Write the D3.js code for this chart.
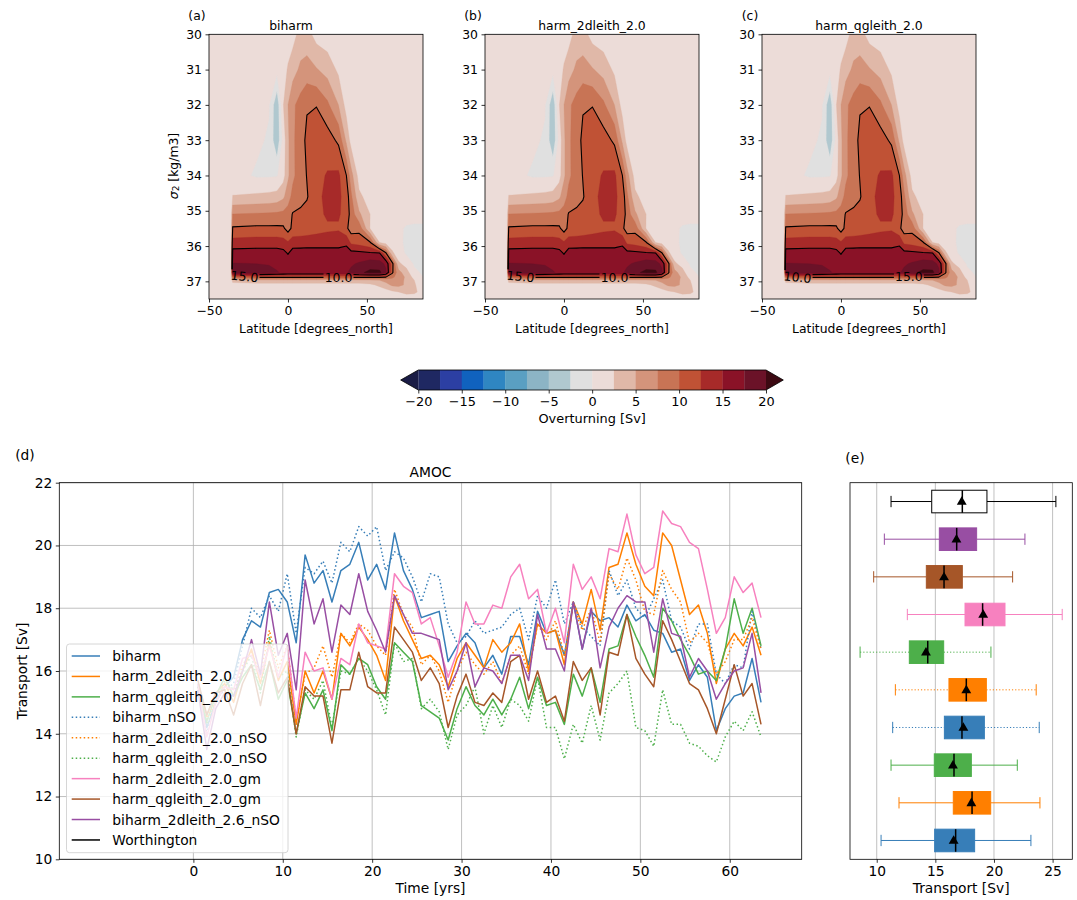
<!DOCTYPE html>
<html>
<head>
<meta charset="utf-8">
<title>Overturning and AMOC</title>
<script src="https://cdn.jsdelivr.net/npm/d3@7"></script>
<style>
    body { margin: 0; background: #ffffff; }
    svg { font-family: "DejaVu Sans", sans-serif; }
</style>
</head>
<body>
<svg id="figure" width="1077" height="900"></svg>
<script>
// ---------- (a)-(c) overturning streamfunction in density space ----------
const latGrid = [-50, -36, -35, -20, -12, -7, -3, 0, 3, 8, 12, 18, 25, 32, 37, 40, 45, 52, 58, 62, 66, 70, 75, 80, 85.5];
const sigmaGrid = [30, 31, 32, 33, 34, 34.6, 35.1, 35.5, 35.9, 36.2, 36.5, 36.75, 36.88, 36.97, 37.1, 37.3, 37.5];
const psiRows = [
    [1, 1, 1, 1, 1, 1, 1, 1, 1.5, 3.5, 3.5, 1.5, 1, 1, 1, 1, 1, 1, 1, 1, 1, 1, 1, 1, 1],
    [1, 1, 1, 1, 1, 0.8, 1.2, 2.8, 4, 5.5, 6, 5.2, 4, 2, 1, 1, 1, 1, 1, 1, 1, 1, 1, 1, 1],
    [1, 1, 1, 1, 0.2, -4.5, 2.4, 5, 7, 8.5, 9.8, 9.9, 8, 5, 1.5, 1, 1, 1, 1, 1, 1, 1, 1, 1, 1],
    [1, 1, 1, 0.5, -0.3, -4.5, 1, 4.5, 7, 9, 10.5, 11.5, 11.2, 9.5, 4.5, 1.5, 1, 1, 1, 1, 1, 1, 1, 1, 1],
    [1, 1, 1, -0.3, -0.3, -0.2, 1.5, 4.5, 7, 8.8, 10.1, 11.8, 12.7, 13, 10, 6, 1.5, 1, 1, 1, 1, 1, 1, 1, 1],
    [1, 1, 2.6, 3, 3.2, 3.5, 4.5, 6.5, 8.2, 9.2, 9.8, 11.8, 13.2, 13, 11.5, 8, 3, 1.5, 1, 1, 1, 1, 1, 1, 1],
    [1, 1, 7.6, 7.8, 7.9, 8, 8.2, 8.5, 10.2, 10.5, 10.8, 11.5, 13, 12.8, 11.5, 9, 5.5, 2.5, 1, 1, 1, 1, 1, 1, 1],
    [1, 1, 10.3, 10.5, 10.5, 10.5, 10.4, 9, 10.6, 10.8, 11, 11.5, 12, 12.2, 10.5, 8.8, 9.2, 2.4, 1.2, 1, 1, 0.5, -0.3, -0.5, -0.5],
    [1, 1, 13.5, 13.8, 13.8, 13.8, 13.5, 12.8, 13.8, 13.9, 14, 14, 14, 14, 14.5, 12, 11.5, 10.3, 2.5, 1.5, 1, 0.5, -0.4, -0.6, -0.6],
    [1, 1, 16, 16, 16, 16, 15.8, 14.8, 16, 16, 16, 16, 16, 16, 16, 15.8, 15.6, 15.3, 15.1, 10.3, 3, 1, -0.3, -0.6, -0.6],
    [1, 1, 17.6, 17.5, 17.4, 17.2, 17, 16.5, 17, 17, 17, 17, 17, 17, 17, 17.2, 17.8, 18.8, 18.5, 17, 11, 3, 1.5, -0.3, -0.5],
    [1, 1, 19, 18.8, 18, 17.6, 17.3, 17, 17.2, 17.2, 17.2, 17.2, 17.2, 17.2, 17.3, 18, 19.5, 20.6, 20.6, 18, 10.5, 6, 3.5, 0.5, -0.3],
    [1, 1, 10, 10.5, 10.5, 10.5, 10.5, 10.5, 10.5, 10.5, 10.5, 10.5, 10.5, 10.5, 10.5, 10.5, 10.5, 10.5, 10.5, 10, 8, 6.5, 4.5, 1.5, 0],
    [1, 1, 3.5, 4.5, 4.5, 4.5, 4.5, 4.5, 4.5, 4.5, 4.5, 4.5, 4.5, 4.5, 4.5, 4.5, 4.5, 4.5, 5, 6, 6.5, 6, 4.5, 2.5, 1],
    [1, 1, 1.5, 1.5, 1.5, 1.5, 1.5, 1.5, 1.5, 1.5, 1.5, 1.5, 1.5, 1.5, 1.5, 1.5, 1.5, 2, 3, 4, 5.5, 5.8, 4.5, 2.8, 1],
    [1, 1, 1, 1, 1, 1, 1, 1, 1, 1, 1, 1, 1, 1, 1, 1, 1, 1, 1, 1.5, 2, 2.5, 3.2, 3, 1.5],
    [1, 1, 1, 1, 1, 1, 1, 1, 1, 1, 1, 1, 1, 1, 1, 1, 1, 1, 1, 1, 1, 1, 1, 1, 1]
];

const psiLevels = [-20, -17.5, -15, -12.5, -10, -7.5, -5, -2.5, 0, 2.5, 5, 7.5, 10, 12.5, 15, 17.5, 20];
const psiColors = ["#1f2862", "#2c3fa3", "#1062be", "#2f86c2", "#5a9fc2", "#8cb4c5", "#b0c8cf", "#e0e0e0",
                   "#ecdcd8", "#e0b8a8", "#d4947b", "#c87455", "#c05235", "#a72a29", "#8a1227", "#6b1228", "#3c0912"];
const psiUnder = "#1a1c45";
const lineLevels = [10, 15];
const colorbarTicks = [-20, -15, -10, -5, 0, 5, 10, 15, 20];

const panelTitles = ["biharm", "harm_2dleith_2.0", "harm_qgleith_2.0"];
const panelTags = ["(a)", "(b)", "(c)"];
const panelLabelText = [["15.0", "10.0"], ["15.0", "10.0"], ["10.0", "15.0"]];

// ---------- (d) AMOC time series, annual means ----------
const seriesNames = ["biharm", "harm_2dleith_2.0", "harm_qgleith_2.0", "biharm_nSO", "harm_2dleith_2.0_nSO",
                     "harm_qgleith_2.0_nSO", "harm_2dleith_2.0_gm", "harm_qgleith_2.0_gm", "biharm_2dleith_2.6_nSO", "Worthington"];
const years = d3.range(64).map(k => k + 0.5);

const biharm = [15.6, 14.2, 15.0, 15.5, 15.8, 17.0, 17.6, 17.4, 18.5, 18.6,
    18.2, 16.9, 19.7, 18.8, 19.2, 18.2, 19.2, 19.4, 20.1, 18.9,
    19.4, 18.6, 20.4, 19.2, 18.6, 17.7, 17.8, 17.9, 16.3, 16.8,
    17.2, 16.9, 16.1, 16.5, 15.9, 17.1, 17.1, 16.2, 17.9, 17.2,
    17.3, 16.5, 18.2, 16.7, 17.9, 17.6, 17.7, 17.4, 18.1, 17.6,
    17.8, 17.3, 17.2, 16.6, 16.7, 15.7, 16.2, 15.8, 14.1, 14.8,
    15.2, 15.3, 16.4, 15.0];
const harm2dleith = [15.5, 14.6, 15.3, 15.6, 15.0, 16.0, 16.7, 15.6, 16.9, 15.7,
    16.3, 14.3, 16.0, 15.3, 16.0, 15.1, 17.2, 16.8, 17.4, 17.0,
    16.5, 15.7, 18.4, 17.6, 17.0, 16.4, 16.5, 16.2, 15.5, 16.4,
    16.9, 16.5, 16.1, 17.0, 16.6, 16.9, 17.5, 16.0, 17.5, 17.2,
    17.3, 16.2, 18.2, 17.5, 18.6, 17.3, 19.3, 19.4, 20.4, 19.4,
    18.7, 18.4, 20.4, 20.0, 18.9, 17.8, 18.1, 17.2, 15.6, 16.7,
    17.2, 16.8, 17.4, 16.5];
const harmQgleith = [15.4, 14.4, 15.2, 15.8, 15.2, 15.8, 16.2, 15.4, 16.3, 15.1,
    15.7, 14.0, 15.3, 14.8, 15.4, 14.1, 16.2, 15.9, 16.4, 16.2,
    15.5, 15.1, 16.9, 16.6, 16.3, 14.9, 14.7, 14.5, 13.8, 14.8,
    15.5, 14.9, 14.6, 15.1, 14.6, 15.1, 15.8, 14.8, 15.8, 14.9,
    15.0, 14.3, 15.9, 15.2, 16.1, 15.0, 16.7, 16.8, 17.8, 17.1,
    16.5, 15.8, 18.0, 17.6, 17.0, 16.5, 15.9, 16.0, 15.7, 16.7,
    18.3, 17.2, 18.0, 16.8];
const biharmNSO = [15.5, 14.0, 15.1, 15.4, 15.6, 16.8, 18.0, 17.7, 18.4, 17.9,
    19.1, 17.2, 19.3, 19.1, 19.5, 18.8, 20.1, 19.8, 20.6, 20.3,
    20.6, 19.2, 19.8, 19.6, 19.0, 18.2, 19.1, 19.0, 17.5, 16.9,
    17.1, 17.6, 17.2, 17.3, 17.4, 17.8, 18.0, 17.0, 18.4, 18.0,
    18.9, 17.5, 18.2, 17.4, 17.1, 16.8, 19.2, 18.4, 18.9, 18.0,
    17.7, 18.3, 18.9, 17.6, 17.4, 16.7, 17.5, 17.5, 15.9, 15.6,
    16.2, 16.1, 17.9, 16.7];
const harm2dleithNSO = [15.7, 14.5, 15.0, 15.6, 15.2, 16.2, 16.6, 15.9, 17.3, 16.1,
    16.8, 14.4, 15.9, 16.1, 16.8, 15.8, 17.2, 16.9, 17.5, 17.3,
    16.8, 16.5, 18.6, 17.8, 17.4, 16.2, 16.5, 16.0, 15.0, 16.0,
    16.6, 16.2, 15.9, 16.3, 15.6, 16.5, 16.8, 15.9, 17.5, 17.0,
    17.6, 16.5, 18.1, 17.3, 18.0, 16.9, 19.1, 18.6, 19.6, 18.9,
    17.9, 17.8, 19.2, 18.6, 18.2, 16.9, 17.2, 16.9, 15.9, 16.3,
    17.0, 17.0, 17.7, 16.7];
const harmQgleithNSO = [15.5, 14.3, 15.0, 15.7, 15.4, 16.0, 16.5, 15.3, 17.1, 15.8,
    16.0, 13.9, 15.4, 15.1, 15.7, 14.2, 16.0, 15.9, 16.4, 16.0,
    15.4, 14.6, 16.9, 16.3, 16.4, 14.8, 15.1, 14.7, 13.5, 14.6,
    14.9, 15.5, 14.0, 14.9, 14.2, 15.1, 14.9, 14.4, 15.8, 14.2,
    14.2, 13.2, 14.3, 13.7, 14.9, 13.8, 15.3, 15.6, 16.0, 14.2,
    14.1, 13.6, 15.4, 14.3, 14.3, 13.7, 13.6, 13.3, 13.1, 13.9,
    14.4, 14.1, 14.7, 13.9];
const harm2dleithGM = [15.6, 13.9, 15.0, 15.5, 15.4, 16.4, 16.5, 15.8, 16.8, 15.8,
    16.8, 14.5, 16.6, 16.0, 16.1, 15.1, 16.4, 16.2, 17.5, 16.9,
    16.8, 16.7, 19.1, 18.7, 18.5, 17.5, 17.7, 16.8, 15.8, 16.6,
    18.2, 17.5, 17.5, 18.1, 18.0, 19.0, 19.4, 18.3, 18.6, 17.2,
    18.0, 16.9, 19.4, 18.6, 19.0, 18.3, 19.9, 19.8, 21.0, 19.7,
    19.1, 19.3, 21.1, 20.7, 20.6, 20.1, 19.9, 18.6, 17.2, 17.7,
    19.0, 18.5, 18.8, 17.7];
const harmQgleithGM = [15.7, 14.6, 15.3, 15.4, 14.6, 15.6, 16.2, 14.9, 16.3, 15.3,
    15.8, 14.0, 15.5, 15.2, 15.2, 13.7, 15.4, 15.4, 16.6, 15.5,
    15.3, 15.3, 17.4, 17.0, 16.6, 15.7, 16.1, 15.6, 14.2, 15.2,
    15.9, 15.0, 14.9, 15.3, 15.0, 16.3, 16.5, 15.1, 16.0, 15.0,
    15.2, 14.4, 16.3, 15.7, 16.1, 14.6, 16.6, 16.5, 17.8, 16.4,
    15.9, 15.5, 17.6, 17.0, 16.3, 15.6, 15.4, 14.8, 14.0, 15.1,
    16.2, 15.2, 15.6, 14.3];
const biharm2dleith26NSO = [15.4, 13.5, 14.8, 15.3, 15.2, 16.0, 17.0, 15.9, 18.2, 16.5,
    17.2, 15.4, 18.9, 17.5, 18.3, 16.6, 18.1, 17.8, 19.1, 17.9,
    17.3, 16.6, 18.4, 17.8, 17.2, 17.2, 17.1, 17.0, 15.4, 16.0,
    16.9, 15.5, 16.1, 16.0, 15.6, 16.5, 16.5, 15.7, 17.8, 16.7,
    16.7, 16.0, 18.2, 16.7, 18.0, 16.1, 17.4, 18.0, 18.4, 18.2,
    18.2, 16.6, 18.3, 17.2, 17.1, 15.8, 16.4, 16.0, 15.1, 15.6,
    16.0, 16.1, 17.2, 15.3];
const worthington = [];   // only shown in the legend

const seriesColors = ["#377eb8", "#ff7f00", "#4daf4a", "#377eb8", "#ff7f00", "#4daf4a", "#f781bf", "#a65628", "#984ea3", "#000000"];
const seriesDotted = [false, false, false, true, true, true, false, false, false, false];

// ---------- (e) box plots, bottom (1) to top (10) ----------
const boxFill = ["#377eb8", "#ff7f00", "#4daf4a", "#377eb8", "#ff7f00", "#4daf4a", "#f781bf", "#a65628", "#984ea3", "#ffffff"];
const boxEdge = ["#377eb8", "#ff7f00", "#4daf4a", "#377eb8", "#ff7f00", "#4daf4a", "#f781bf", "#a65628", "#984ea3", "#000000"];
const boxDotted = [false, false, false, true, true, true, false, false, false, false];
const whiskLo = [10.37, 11.9, 11.22, 11.36, 11.59, 8.58, 12.61, 9.74, 10.65, 11.22];
const boxQ1 = [14.94, 16.53, 14.91, 15.77, 16.16, 12.78, 17.53, 14.23, 15.34, 14.69];
const boxMedian = [16.73, 18.13, 16.59, 17.27, 17.64, 14.35, 19.03, 15.74, 16.82, 17.3];
const boxQ3 = [18.35, 19.72, 18.07, 19.18, 19.35, 15.71, 20.94, 17.3, 18.52, 19.4];
const whiskHi = [23.15, 23.92, 21.99, 23.86, 23.6, 19.74, 25.82, 21.59, 22.64, 25.28];
const boxMean = [16.56, 18.07, 16.5, 17.39, 17.64, 14.2, 19.08, 15.74, 16.8, 17.25];

const svg = d3.select("#figure");
const defs = svg.append("defs");

function styleAxis(g, fontSize) {
    g.attr("font-family", "DejaVu Sans").attr("font-size", fontSize);
    g.selectAll(".domain").remove();
    g.selectAll(".tick line").attr("stroke", "#000").attr("stroke-width", 0.8);
    g.selectAll(".tick text").attr("fill", "#000");
}

function drawFrame(x0, y0, x1, y1) {
    svg.append("rect")
        .attr("x", x0).attr("y", y0)
        .attr("width", x1 - x0).attr("height", y1 - y0)
        .attr("fill", "none")
        .attr("stroke", "#000")
        .attr("stroke-width", 0.8);
}

// ---------- contour panels ----------
function drawOverturning(p, x0, titleX) {
    const top = 34.3, bottom = 299, width = 214;
    const x = d3.scaleLinear().domain([-50, 85.5]).range([x0, x0 + width]);
    const y = d3.scaleLinear().domain([30, 37.5]).range([top, bottom]);

    const nx = latGrid.length, ny = sigmaGrid.length;
    const latOf = d3.scaleLinear().domain(d3.range(nx)).range(latGrid);
    const sigOf = d3.scaleLinear().domain(d3.range(ny)).range(sigmaGrid);
    const clampI = (v, n) => Math.max(0, Math.min(n - 1, v - 0.5));
    const path = d3.geoPath(d3.geoTransform({
        point(px, py) {
            this.stream.point(x(latOf(clampI(px, nx))), y(sigOf(clampI(py, ny))));
        }
    }));
    const values = psiRows.flat();

    const clipId = "clip-" + p;
    defs.append("clipPath").attr("id", clipId)
        .append("rect").attr("x", x0).attr("y", top).attr("width", width).attr("height", bottom - top);

    const g = svg.append("g").attr("clip-path", `url(#${clipId})`);
    g.append("rect")
        .attr("x", x0).attr("y", top).attr("width", width).attr("height", bottom - top)
        .attr("fill", psiUnder);

    const bands = d3.contours().size([nx, ny]).thresholds(psiLevels)(values);
    g.selectAll("path.band")
        .data(bands)
        .enter()
        .append("path")
        .attr("class", "band")
        .attr("d", path)
        .attr("fill", d => psiColors[psiLevels.indexOf(d.value)])
        .attr("stroke", d => psiColors[psiLevels.indexOf(d.value)])
        .attr("stroke-width", 0.3);

    // inline contour labels cut gaps into the black lines
    const labelPos = p === 2 ? [[-27.5, 36.88], [43, 36.86]] : [[-27.5, 36.86], [32, 36.9]];
    const maskId = "mask-" + p;
    const mask = defs.append("mask").attr("id", maskId).attr("maskUnits", "userSpaceOnUse")
        .attr("x", 0).attr("y", 0).attr("width", 1077).attr("height", 900);
    mask.append("rect").attr("x", 0).attr("y", 0).attr("width", 1077).attr("height", 900).attr("fill", "#fff");
    labelPos.forEach(lp => {
        mask.append("rect")
            .attr("x", x(lp[0]) - 15).attr("y", y(lp[1]) - 7)
            .attr("width", 30).attr("height", 14)
            .attr("fill", "#000");
    });

    const lines = d3.contours().size([nx, ny]).thresholds(lineLevels)(values);
    g.append("g")
        .attr("mask", `url(#${maskId})`)
        .selectAll("path")
        .data(lines)
        .enter()
        .append("path")
        .attr("d", path)
        .attr("fill", "none")
        .attr("stroke", "#000")
        .attr("stroke-width", 1.1);

    labelPos.forEach((lp, i) => {
        g.append("text")
            .attr("x", x(lp[0]))
            .attr("y", y(lp[1]))
            .attr("text-anchor", "middle")
            .attr("dominant-baseline", "central")
            .attr("transform", `rotate(${i === 0 ? 6 : 0}, ${x(lp[0])}, ${y(lp[1])})`)
            .style("font-size", "12.4px")
            .attr("fill", "#000")
            .text(panelLabelText[p][i]);
    });

    drawFrame(x0, top, x0 + width, bottom);

    const ax = svg.append("g")
        .attr("transform", `translate(0, ${bottom})`)
        .call(d3.axisBottom(x).tickValues([-50, 0, 50]).tickSize(3.5).tickPadding(3.5));
    styleAxis(ax, "12.4px");
    const ay = svg.append("g")
        .attr("transform", `translate(${x0}, 0)`)
        .call(d3.axisLeft(y).tickValues(d3.range(30, 38)).tickSize(3.5).tickPadding(3.5));
    styleAxis(ay, "12.4px");

    svg.append("text")
        .attr("x", titleX).attr("y", 25)
        .attr("text-anchor", "middle").attr("dominant-baseline", "central")
        .style("font-size", "12.4px")
        .text(panelTitles[p]);
    svg.append("text")
        .attr("x", x0 - 12).attr("y", 15)
        .attr("text-anchor", "middle").attr("dominant-baseline", "central")
        .style("font-size", "12.4px")
        .text(panelTags[p]);
    svg.append("text")
        .attr("x", x0 + width / 2).attr("y", 328)
        .attr("text-anchor", "middle").attr("dominant-baseline", "central")
        .style("font-size", "12.4px")
        .text("Latitude [degrees_north]");

    if (p === 0) {
        const yl = svg.append("text")
            .attr("transform", `translate(173, 166) rotate(-90)`)
            .attr("text-anchor", "middle").attr("dominant-baseline", "central")
            .style("font-size", "12.4px");
        yl.append("tspan").style("font-style", "italic").text("σ");
        yl.append("tspan").attr("dy", 3).style("font-size", "9px").text("2");
        yl.append("tspan").attr("dy", -3).text(" [kg/m3]");
    }
}

drawOverturning(0, 209, 291);
drawOverturning(1, 485, 592);
drawOverturning(2, 762, 869);

// ---------- colorbar ----------
function drawColorbar() {
    const cb = d3.scaleLinear().domain([-20, 20]).range([418.3, 766]);
    const y0 = 370, y1 = 390;
    for (let i = 0; i < psiLevels.length - 1; i++) {
        svg.append("rect")
            .attr("x", cb(psiLevels[i])).attr("y", y0)
            .attr("width", cb(psiLevels[i + 1]) - cb(psiLevels[i]) + 0.3)
            .attr("height", y1 - y0)
            .attr("fill", psiColors[i]);
    }
    svg.append("path")
        .attr("d", `M${cb(-20)},${y0} L400.7,${(y0 + y1) / 2} L${cb(-20)},${y1} Z`)
        .attr("fill", psiUnder);
    svg.append("path")
        .attr("d", `M${cb(20)},${y0} L783.3,${(y0 + y1) / 2} L${cb(20)},${y1} Z`)
        .attr("fill", psiColors[psiColors.length - 1]);
    svg.append("path")
        .attr("d", `M${cb(-20)},${y0} L400.7,${(y0 + y1) / 2} L${cb(-20)},${y1} L${cb(20)},${y1} L783.3,${(y0 + y1) / 2} L${cb(20)},${y0} Z`)
        .attr("fill", "none").attr("stroke", "#000").attr("stroke-width", 0.8);

    const ax = svg.append("g")
        .attr("transform", `translate(0, ${y1})`)
        .call(d3.axisBottom(cb).tickValues(colorbarTicks).tickSize(3.5).tickPadding(3));
    styleAxis(ax, "12.9px");

    svg.append("text")
        .attr("x", cb(0)).attr("y", 418)
        .attr("text-anchor", "middle").attr("dominant-baseline", "central")
        .style("font-size", "12.9px")
        .text("Overturning [Sv]");
}
drawColorbar();

// ---------- (d) AMOC time series ----------
function drawTimeSeries() {
    const left = 59.3, right = 801.7, top = 482.7, bottom = 859.3;
    const x = d3.scaleLinear().domain([-15, 68.05]).range([left, right]);
    const y = d3.scaleLinear().domain([10, 22]).range([bottom, top]);

    const grid = svg.append("g");
    d3.range(0, 61, 10).forEach(t => {
        grid.append("line")
            .attr("x1", x(t)).attr("x2", x(t)).attr("y1", top).attr("y2", bottom)
            .attr("stroke", "#b0b0b0").attr("stroke-width", 0.8);
    });
    d3.range(10, 23, 2).forEach(v => {
        grid.append("line")
            .attr("x1", left).attr("x2", right).attr("y1", y(v)).attr("y2", y(v))
            .attr("stroke", "#b0b0b0").attr("stroke-width", 0.8);
    });

    const allSeries = [biharm, harm2dleith, harmQgleith, biharmNSO, harm2dleithNSO, harmQgleithNSO,
                       harm2dleithGM, harmQgleithGM, biharm2dleith26NSO, worthington];
    const line = d3.line()
        .x((d, i) => x(years[i]))
        .y(d => y(d));

    allSeries.forEach((s, i) => {
        if (!s.length) return;
        svg.append("path")
            .datum(s)
            .attr("d", line)
            .attr("fill", "none")
            .attr("stroke", seriesColors[i])
            .attr("stroke-width", 1.5)
            .attr("stroke-linejoin", "round")
            .attr("stroke-dasharray", seriesDotted[i] ? "1.5,2.5" : null);
    });

    drawFrame(left, top, right, bottom);

    const ax = svg.append("g")
        .attr("transform", `translate(0, ${bottom})`)
        .call(d3.axisBottom(x).tickValues(d3.range(0, 61, 10)).tickSize(3.5).tickPadding(3.5));
    styleAxis(ax, "13.8px");
    const ay = svg.append("g")
        .attr("transform", `translate(${left}, 0)`)
        .call(d3.axisLeft(y).tickValues(d3.range(10, 23, 2)).tickSize(3.5).tickPadding(3.5));
    styleAxis(ay, "13.8px");

    svg.append("text")
        .attr("x", (left + right) / 2).attr("y", 472)
        .attr("text-anchor", "middle").attr("dominant-baseline", "central")
        .style("font-size", "13.8px")
        .text("AMOC");
    svg.append("text")
        .attr("x", (left + right) / 2).attr("y", 888)
        .attr("text-anchor", "middle").attr("dominant-baseline", "central")
        .style("font-size", "13.8px")
        .text("Time [yrs]");
    svg.append("text")
        .attr("transform", `translate(22, ${(top + bottom) / 2}) rotate(-90)`)
        .attr("text-anchor", "middle").attr("dominant-baseline", "central")
        .style("font-size", "13.8px")
        .text("Transport [Sv]");
    svg.append("text")
        .attr("x", 25).attr("y", 455)
        .attr("text-anchor", "middle").attr("dominant-baseline", "central")
        .style("font-size", "13.8px")
        .text("(d)");

    // legend
    const lg = svg.append("g").attr("class", "legend");
    lg.append("rect")
        .attr("x", 66.5).attr("y", 644)
        .attr("width", 221.5).attr("height", 208.7)
        .attr("rx", 3)
        .attr("fill", "#ffffff").attr("fill-opacity", 0.8)
        .attr("stroke", "#cccccc").attr("stroke-width", 0.8);
    const items = lg.selectAll(".legend-item")
        .data(seriesNames)
        .enter()
        .append("g")
        .attr("class", "legend-item")
        .attr("transform", (d, i) => `translate(0, ${656 + i * 20.44})`);
    items.append("line")
        .attr("x1", 71.7).attr("x2", 100).attr("y1", 0).attr("y2", 0)
        .attr("stroke", (d, i) => seriesColors[i])
        .attr("stroke-width", 1.5)
        .attr("stroke-dasharray", (d, i) => seriesDotted[i] ? "1.5,2.5" : null);
    items.append("text")
        .attr("x", 112.3).attr("y", 0)
        .attr("dominant-baseline", "central")
        .style("font-size", "13.8px")
        .text(d => d);
}
drawTimeSeries();

// ---------- (e) box plots ----------
function drawBoxes() {
    const left = 850, right = 1072.3, top = 482.7, bottom = 859.3;
    const x = d3.scaleLinear().domain([7.72, 26.68]).range([left, right]);
    const y = d3.scaleLinear().domain([0.5, 10.5]).range([bottom, top]);

    [10, 15, 20, 25].forEach(v => {
        svg.append("line")
            .attr("x1", x(v)).attr("x2", x(v)).attr("y1", top).attr("y2", bottom)
            .attr("stroke", "#b0b0b0").attr("stroke-width", 0.8);
    });

    const half = y(0) - y(0.3);
    const cap = y(0) - y(0.15);
    boxQ1.forEach((q1, i) => {
        const cy = y(i + 1);
        const dash = boxDotted[i] ? "1.2,2" : null;
        const g = svg.append("g");
        [[whiskLo[i], q1], [boxQ3[i], whiskHi[i]]].forEach(seg => {
            g.append("line")
                .attr("x1", x(seg[0])).attr("x2", x(seg[1])).attr("y1", cy).attr("y2", cy)
                .attr("stroke", boxEdge[i]).attr("stroke-width", 1)
                .attr("stroke-dasharray", dash);
        });
        [whiskLo[i], whiskHi[i]].forEach(v => {
            g.append("line")
                .attr("x1", x(v)).attr("x2", x(v)).attr("y1", cy - cap).attr("y2", cy + cap)
                .attr("stroke", boxEdge[i]).attr("stroke-width", 1);
        });
        g.append("rect")
            .attr("x", x(q1)).attr("y", cy - half)
            .attr("width", x(boxQ3[i]) - x(q1)).attr("height", 2 * half)
            .attr("fill", boxFill[i])
            .attr("stroke", boxEdge[i]).attr("stroke-width", 1);
        g.append("line")
            .attr("x1", x(boxMedian[i])).attr("x2", x(boxMedian[i]))
            .attr("y1", cy - half).attr("y2", cy + half)
            .attr("stroke", "#000").attr("stroke-width", 1.5);
        g.append("path")
            .attr("d", d3.symbol(d3.symbolTriangle, 42)())
            .attr("transform", `translate(${x(boxMean[i])}, ${cy + 0.5})`)
            .attr("fill", "#000");
    });

    drawFrame(left, top, right, bottom);

    const ax = svg.append("g")
        .attr("transform", `translate(0, ${bottom})`)
        .call(d3.axisBottom(x).tickValues([10, 15, 20, 25]).tickSize(3.5).tickPadding(3.5));
    styleAxis(ax, "13.8px");

    svg.append("text")
        .attr("x", (left + right) / 2).attr("y", 888)
        .attr("text-anchor", "middle").attr("dominant-baseline", "central")
        .style("font-size", "13.8px")
        .text("Transport [Sv]");
    svg.append("text")
        .attr("x", 855).attr("y", 458)
        .attr("text-anchor", "middle").attr("dominant-baseline", "central")
        .style("font-size", "13.8px")
        .text("(e)");
}
drawBoxes();
</script>
</body>
</html>
